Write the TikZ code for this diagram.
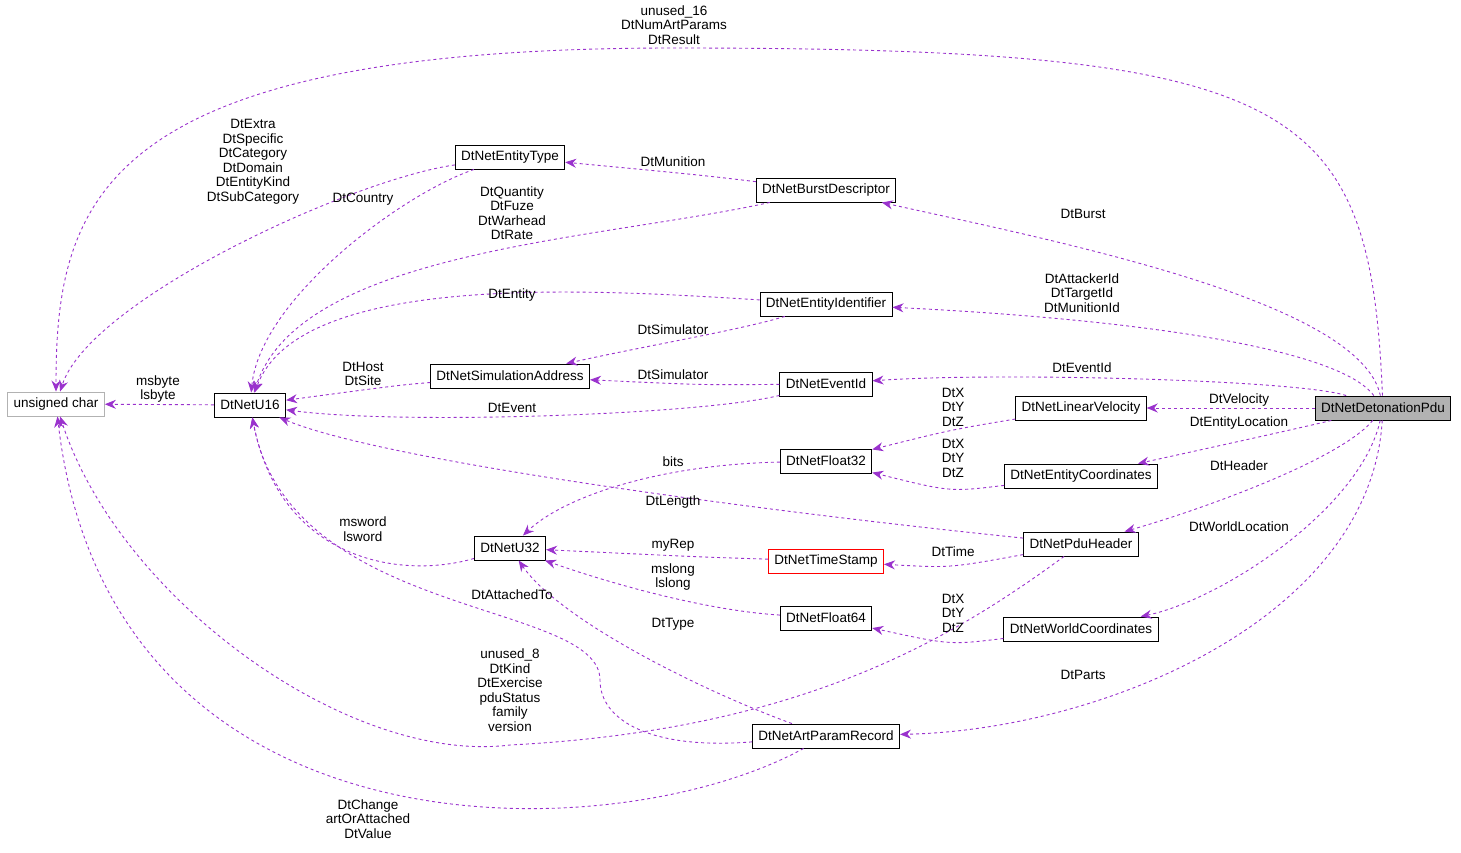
\documentclass[tikz,border=0pt]{standalone}
\usepackage{fontspec}
\setmainfont{Liberation Sans}
\usetikzlibrary{arrows.meta}
\definecolor{edge}{RGB}{154,50,205}
\begin{document}
\begin{tikzpicture}[x=1pt,y=-1pt,
  cls/.style={draw=black,rectangle,minimum height=24pt,inner xsep=6pt,line width=0.9pt,font=\fontsize{13.5}{14.5}\selectfont},
  lbl/.style={align=center,font=\fontsize{13.5}{14.5}\selectfont,inner sep=0pt},
  e/.style={draw=edge,dashed,line width=0.9pt,-{Stealth[length=11pt,width=9pt]}}]
\useasboundingbox (0,0) rectangle (1461,853);
\node[cls,draw=gray!60] (uc) at (56,404) {unsigned char};
\node[cls] (u16) at (250,405) {DtNetU16};
\node[cls] (et) at (510,157) {DtNetEntityType};
\node[cls] (burst) at (826,190) {DtNetBurstDescriptor};
\node[cls] (eid) at (826,304) {DtNetEntityIdentifier};
\node[cls] (sa) at (510,376) {DtNetSimulationAddress};
\node[cls] (evid) at (826,384) {DtNetEventId};
\node[cls] (lv) at (1081,408) {DtNetLinearVelocity};
\node[cls,fill=gray!60] (pdu) at (1383,408) {DtNetDetonationPdu};
\node[cls] (f32) at (826,461) {DtNetFloat32};
\node[cls] (ec) at (1081,476) {DtNetEntityCoordinates};
\node[cls] (u32) at (510,548) {DtNetU32};
\node[cls] (ph) at (1081,544) {DtNetPduHeader};
\node[cls,draw=red] (ts) at (826,561) {DtNetTimeStamp};
\node[cls] (f64) at (826,618) {DtNetFloat64};
\node[cls] (wc) at (1081,629) {DtNetWorldCoordinates};
\node[cls] (apr) at (826,736) {DtNetArtParamRecord};

\draw[e] (pdu) .. controls (1370,100) and (1300,48) .. (674,48) .. controls (100,48) and (56,200) .. (uc);
\draw[e] (pdu) .. controls (1360,300) and (1050,240) .. (burst);
\draw[e] (pdu) .. controls (1340,350) and (1150,320) .. (eid);
\draw[e] (pdu) .. controls (1300,380) and (1000,372) .. (evid);
\draw[e] (pdu) -- (lv);
\draw[e] (pdu) .. controls (1300,428) and (1200,450) .. (ec);
\draw[e] (pdu) .. controls (1340,460) and (1200,510) .. (ph);
\draw[e] (pdu) .. controls (1360,510) and (1220,600) .. (wc);
\draw[e] (pdu) .. controls (1370,620) and (1100,730) .. (apr);
\draw[e] (burst) .. controls (700,175) .. (et);
\draw[e] (burst) .. controls (600,240) and (300,250) .. (u16);
\draw[e] (et) .. controls (350,180) and (90,300) .. (uc);
\draw[e] (et) .. controls (400,195) and (260,300) .. (u16);
\draw[e] (eid) .. controls (600,290) and (300,270) .. (u16);
\draw[e] (eid) .. controls (740,330) and (650,345) .. (sa);
\draw[e] (evid) .. controls (700,385) .. (sa);
\draw[e] (evid) .. controls (700,415) and (400,425) .. (u16);
\draw[e] (sa) .. controls (400,385) .. (u16);
\draw[e] (u16) -- (uc);
\draw[e] (lv) .. controls (950,430) .. (f32);
\draw[e] (ec) .. controls (950,492) .. (f32);
\draw[e] (f32) .. controls (650,465) and (560,500) .. (u32);
\draw[e] (ph) .. controls (750,510) and (380,460) .. (u16);
\draw[e] (ph) .. controls (950,568) .. (ts);
\draw[e] (ph) .. controls (950,640) and (800,730) .. (510,745) .. controls (350,765) and (120,600) .. (uc);
\draw[e] (u32) .. controls (400,580) and (280,560) .. (u16);
\draw[e] (ts) .. controls (700,557) .. (u32);
\draw[e] (f64) .. controls (700,610) and (600,580) .. (u32);
\draw[e] (wc) .. controls (950,645) .. (f64);
\draw[e] (apr) .. controls (650,750) and (600,720) .. (600,680) .. controls (600,600) and (290,620) .. (u16);
\draw[e] (apr) .. controls (700,690) and (560,620) .. (u32);
\draw[e] (apr) .. controls (620,850) and (110,870) .. (uc);

\node[lbl] (l1) at (674,25) {unused\_16\\DtNumArtParams\\DtResult};
\node[lbl] (l2) at (1083,214) {DtBurst};
\node[lbl] (l3) at (1082,293) {DtAttackerId\\DtTargetId\\DtMunitionId};
\node[lbl] (l4) at (1082,368) {DtEventId};
\node[lbl] (l5) at (1239,400) {DtVelocity};
\node[lbl] (l6) at (1239,423) {DtEntityLocation};
\node[lbl] (l7) at (1239,466) {DtHeader};
\node[lbl] (l8) at (1239,527) {DtWorldLocation};
\node[lbl] (l9) at (1083,675) {DtParts};
\node[lbl] (l10) at (673,162) {DtMunition};
\node[lbl] (l11) at (512,213) {DtQuantity\\DtFuze\\DtWarhead\\DtRate};
\node[lbl] (l12) at (253,162) {DtExtra\\DtSpecific\\DtCategory\\DtDomain\\DtEntityKind\\DtSubCategory};
\node[lbl] (l13) at (363,199) {DtCountry};
\node[lbl] (l14) at (512,295) {DtEntity};
\node[lbl] (l15) at (673,330) {DtSimulator};
\node[lbl] (l16) at (673,375) {DtSimulator};
\node[lbl] (l17) at (512,408) {DtEvent};
\node[lbl] (l18) at (363,374) {DtHost\\DtSite};
\node[lbl] (l19) at (158,389) {msbyte\\lsbyte};
\node[lbl] (l20) at (953,407) {DtX\\DtY\\DtZ};
\node[lbl] (l21) at (953,458) {DtX\\DtY\\DtZ};
\node[lbl] (l22) at (673,462) {bits};
\node[lbl] (l23) at (673,502) {DtLength};
\node[lbl] (l24) at (953,552) {DtTime};
\node[lbl] (l25) at (510,690) {unused\_8\\DtKind\\DtExercise\\pduStatus\\family\\version};
\node[lbl] (l26) at (363,529) {msword\\lsword};
\node[lbl] (l27) at (673,545) {myRep};
\node[lbl] (l28) at (673,577) {mslong\\lslong};
\node[lbl] (l29) at (953,613) {DtX\\DtY\\DtZ};
\node[lbl] (l30) at (512,595) {DtAttachedTo};
\node[lbl] (l31) at (673,624) {DtType};
\node[lbl] (l32) at (368,819) {DtChange\\artOrAttached\\DtValue};
\end{tikzpicture}
\end{document}
